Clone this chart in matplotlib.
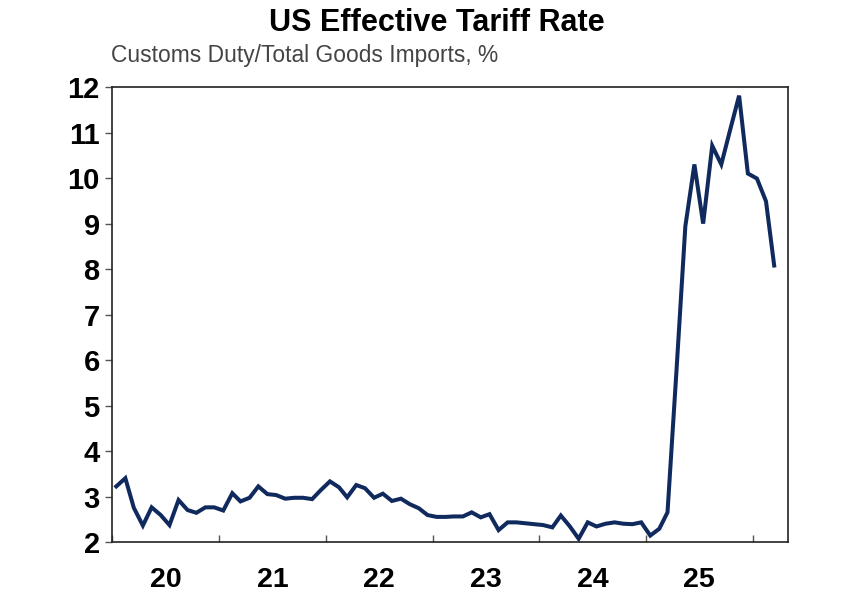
import numpy as np
import pandas as pd
import matplotlib
matplotlib.use("Agg")
import matplotlib.pyplot as plt
import matplotlib.dates as mdates

plt.rcParams['font.family'] = ['Liberation Sans', 'DejaVu Sans']

# monthly, Jan 2020 - Mar 2026
start_month = '2020-01'
end_month = '2026-03'
tariff_rate = [
    3.23, 3.41, 2.76, 2.37, 2.77, 2.60, 2.38, 2.93, 2.71, 2.65, 2.77, 2.77,   # 2020
    2.70, 3.08, 2.90, 2.98, 3.23, 3.06, 3.04, 2.96, 2.98, 2.98, 2.95, 3.15,   # 2021
    3.34, 3.21, 2.99, 3.26, 3.19, 2.98, 3.07, 2.91, 2.96, 2.84, 2.75, 2.60,   # 2022
    2.56, 2.56, 2.57, 2.57, 2.66, 2.55, 2.62, 2.27, 2.44, 2.44, 2.42, 2.40,   # 2023
    2.38, 2.33, 2.59, 2.35, 2.08, 2.44, 2.35, 2.41, 2.44, 2.41, 2.40, 2.44,   # 2024
    2.15, 2.30, 2.66, 5.80, 8.94, 10.30, 9.00, 10.71, 10.30, 11.05, 11.81, 10.10,  # 2025
    9.99, 9.49, 8.08,                                                          # 2026
]
year_labels = ['20', '21', '22', '23', '24', '25']

dates = pd.date_range(start_month, end_month, freq='MS') + pd.Timedelta(days=14)

fig = plt.figure(figsize=(8.63, 6.0), dpi=100)
ax = fig.add_axes([0.130, 0.096, 0.783, 0.759])

ax.plot(dates, tariff_rate, color='#112a5e', linewidth=2.9, solid_joinstyle='miter')

ax.set_ylim(2, 12)
ax.set_yticks(np.arange(2, 13, 1))
ax.set_xlim(pd.Timestamp('2020-01-01'), pd.Timestamp('2026-05-01'))

# year boundaries as ticks, labels centred mid-year
ax.xaxis.set_major_locator(mdates.YearLocator())
ax.xaxis.set_major_formatter(plt.NullFormatter())
mid_years = [pd.Timestamp(f'20{y}-07-02') for y in year_labels]
ax.set_xticks(mid_years, minor=True)
ax.set_xticklabels(year_labels, minor=True)

ax.tick_params(axis='x', which='major', direction='in', length=5, width=1, color='#555555')
ax.tick_params(axis='x', which='minor', length=0, pad=18, labelsize=20.5)
ax.tick_params(axis='y', direction='out', length=5, width=1, color='#555555', labelsize=21, pad=4)
for lab in ax.get_xticklabels(minor=True) + ax.get_yticklabels():
    lab.set_fontweight('bold')

for s in ax.spines.values():
    s.set_color('#222222')
    s.set_linewidth(1.2)

fig.text(0.506, 0.962, 'US Effective Tariff Rate', ha='center', va='center',
         fontsize=22, fontweight='bold')
fig.text(0.129, 0.908, 'Customs Duty/Total Goods Imports, %', ha='left', va='center',
         fontsize=16.4, color='#444444')

fig.savefig('out.png', dpi=100)
